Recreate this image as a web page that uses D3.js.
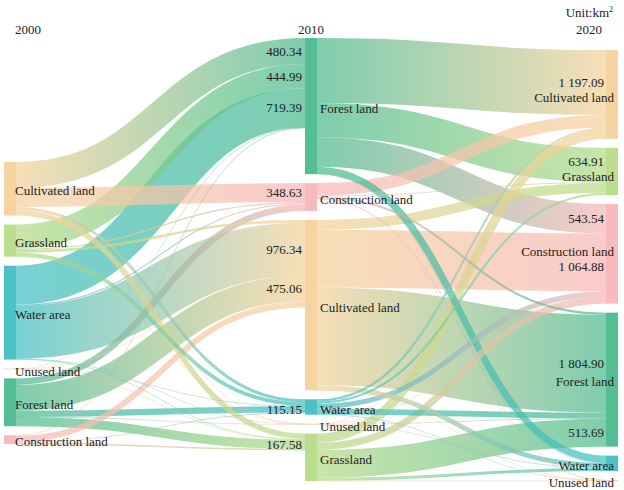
<!DOCTYPE html>
<html>
<head>
<meta charset="utf-8">
<script src="https://cdn.jsdelivr.net/npm/d3@7"></script>
<style>
  body { margin: 0; background: #fff; }
  svg text { font-family: "Liberation Serif", "Times New Roman", "DejaVu Serif", serif; font-size: 13px; fill: #222; }
</style>
</head>
<body>
<svg id="chart" width="624" height="490"></svg>
<script>
// ---- data ----
const years = ['2000', '2010', '2020'];
const landTypes = ['Cultivated land', 'Grassland', 'Water area', 'Unused land', 'Forest land', 'Construction land'];
const landColors = ['#f5d29c', '#b6db88', '#43bfc3', '#f4c8a8', '#4dba8f', '#f7b7b7'];

// node order, top to bottom, per year
const col2000 = ['Cultivated land', 'Grassland', 'Water area', 'Unused land', 'Forest land', 'Construction land'];
const col2010 = ['Forest land', 'Construction land', 'Cultivated land', 'Water area', 'Unused land', 'Grassland'];
const col2020 = ['Cultivated land', 'Grassland', 'Construction land', 'Forest land', 'Water area', 'Unused land'];

// [from, to, km2, printed on chart]
const flows2000 = [
  ['Cultivated land', 'Forest land', 480.34, true],
  ['Cultivated land', 'Construction land', 348.63, true],
  ['Cultivated land', 'Water area', 55],
  ['Cultivated land', 'Unused land', 5],
  ['Cultivated land', 'Grassland', 100],
  ['Grassland', 'Forest land', 444.99, true],
  ['Grassland', 'Construction land', 25],
  ['Grassland', 'Cultivated land', 50],
  ['Grassland', 'Water area', 70],
  ['Grassland', 'Unused land', 3],
  ['Water area', 'Forest land', 719.39, true],
  ['Water area', 'Construction land', 20],
  ['Water area', 'Cultivated land', 976.34, true],
  ['Water area', 'Unused land', 4],
  ['Water area', 'Grassland', 12],
  ['Unused land', 'Forest land', 6],
  ['Unused land', 'Cultivated land', 4],
  ['Unused land', 'Water area', 3],
  ['Unused land', 'Grassland', 2],
  ['Forest land', 'Construction land', 120],
  ['Forest land', 'Cultivated land', 475.06, true],
  ['Forest land', 'Water area', 115.15, true],
  ['Forest land', 'Unused land', 4],
  ['Forest land', 'Grassland', 167.58, true],
  ['Construction land', 'Forest land', 12],
  ['Construction land', 'Cultivated land', 110],
  ['Construction land', 'Water area', 12],
  ['Construction land', 'Grassland', 28]
];

const flows2010 = [
  ['Forest land', 'Cultivated land', 1197.09, true],
  ['Forest land', 'Grassland', 634.91, true],
  ['Forest land', 'Construction land', 543.54, true],
  ['Forest land', 'Water area', 130],
  ['Forest land', 'Unused land', 5],
  ['Construction land', 'Cultivated land', 230],
  ['Construction land', 'Grassland', 15],
  ['Construction land', 'Forest land', 40],
  ['Construction land', 'Water area', 5],
  ['Construction land', 'Unused land', 2],
  ['Cultivated land', 'Grassland', 180],
  ['Cultivated land', 'Construction land', 1064.88, true],
  ['Cultivated land', 'Forest land', 1804.90, true],
  ['Cultivated land', 'Water area', 90],
  ['Cultivated land', 'Unused land', 4],
  ['Water area', 'Cultivated land', 40],
  ['Water area', 'Grassland', 40],
  ['Water area', 'Construction land', 95],
  ['Water area', 'Forest land', 105],
  ['Water area', 'Unused land', 3],
  ['Unused land', 'Forest land', 8],
  ['Unused land', 'Construction land', 4],
  ['Unused land', 'Water area', 4],
  ['Unused land', 'Cultivated land', 2],
  ['Grassland', 'Cultivated land', 170],
  ['Grassland', 'Construction land', 130],
  ['Grassland', 'Forest land', 513.69, true],
  ['Grassland', 'Water area', 55],
  ['Grassland', 'Unused land', 4]
];

// ---- layout ----
const yTop = 38, yBottom = 481, xLeft = 4, xRight = 618;
const nodeW = 12, pad = 9;
const colAlign = [0.77, 0, 1];   // where each column sits in its free space

const color = d3.scaleOrdinal(landTypes, landColors);
const fmt = v => d3.format(',.2f')(v).replace(/,/g, ' ');

const columns = [col2000, col2010, col2020].map((names, i) =>
  names.map(name => ({ name, col: i, ins: [], outs: [] })));
const nodeOf = (i, name) => columns[i].find(n => n.name === name);

const links = [];
[flows2000, flows2010].forEach((fl, i) => fl.forEach(([s, t, v, shown]) => {
  const l = { source: nodeOf(i, s), target: nodeOf(i + 1, t), value: v, shown: !!shown };
  l.source.outs.push(l);
  l.target.ins.push(l);
  links.push(l);
}));
columns.flat().forEach(n => {
  n.value = Math.max(d3.sum(n.ins, l => l.value), d3.sum(n.outs, l => l.value));
});

const x = d3.scalePoint().domain(years).range([xLeft, xRight - nodeW]);
const ky = d3.min(columns, c => (yBottom - yTop - (c.length - 1) * pad) / d3.sum(c, n => n.value));
const h = d3.scaleLinear().domain([0, 1]).range([0, ky]);

columns.forEach((c, i) => {
  const used = d3.sum(c, n => h(n.value)) + (c.length - 1) * pad;
  let y = yTop + (yBottom - yTop - used) * colAlign[i];
  c.forEach(n => {
    n.x0 = x(years[i]);
    n.x1 = n.x0 + nodeW;
    n.y0 = y;
    n.y1 = y + h(n.value);
    y = n.y1 + pad;
  });
});

// stack links inside each node, ordered by the other end
columns.flat().forEach(n => {
  n.outs.sort((a, b) => a.target.y0 - b.target.y0);
  n.ins.sort((a, b) => a.source.y0 - b.source.y0);
  let y = n.y0;
  n.outs.forEach(l => { l.width = h(l.value); l.y0 = y + l.width / 2; y += l.width; });
  y = n.y0;
  n.ins.forEach(l => { l.y1 = y + h(l.value) / 2; y += h(l.value); });
});

// ---- draw ----
const svg = d3.select('#chart');
const defs = svg.append('defs');

links.forEach((l, i) => {
  l.gid = 'g' + i;
  const g = defs.append('linearGradient')
    .attr('id', l.gid)
    .attr('gradientUnits', 'userSpaceOnUse')
    .attr('x1', l.source.x1).attr('x2', l.target.x0);
  g.append('stop').attr('offset', '0%').attr('stop-color', color(l.source.name));
  g.append('stop').attr('offset', '100%').attr('stop-color', color(l.target.name));
});

const linkPath = d3.linkHorizontal()
  .source(l => [l.source.x1, l.y0])
  .target(l => [l.target.x0, l.y1]);

svg.append('g')
  .attr('fill', 'none')
  .attr('stroke-opacity', 0.72)
  .selectAll('path')
  .data(links.slice().sort((a, b) => b.value - a.value))
  .join('path')
    .attr('d', linkPath)
    .attr('stroke', l => `url(#${l.gid})`)
    .attr('stroke-width', l => Math.max(0.6, l.width));

svg.append('g')
  .selectAll('rect')
  .data(columns.flat())
  .join('rect')
    .attr('x', n => n.x0)
    .attr('y', n => n.y0)
    .attr('width', nodeW)
    .attr('height', n => Math.max(0.8, n.y1 - n.y0))
    .attr('fill', n => color(n.name))
    .attr('opacity', 0.95);

// label positions (value labels at target end, node names beside nodes)
const valueLabels = links.filter(l => l.shown).map(l => ({
  text: fmt(l.value), x: l.target.x0 - (l.target.col === 1 ? 3 : 2), y: l.y1, anchor: 'end', node: l.target
}));
const nameLabels = columns.flat().map(n => ({
  text: n.name,
  x: n.col === 0 ? n.x1 - 1 : n.col === 1 ? n.x1 + 3 : n.x1 - 4,
  y: (n.y0 + n.y1) / 2 + 2,
  anchor: n.col === 2 ? 'end' : 'start',
  node: n
}));

// right column: names and values share the same spot, nudge them apart
nameLabels.filter(d => d.node.col === 2).forEach(nl => {
  valueLabels.filter(v => v.node === nl.node).forEach(v => {
    const gap = 15;
    if (Math.abs(v.y - nl.y) < gap) {
      const mid = (v.y + nl.y) / 2;
      if (v.y <= nl.y) { v.y = mid - gap / 2; nl.y = mid + gap / 2; }
      else { nl.y = mid - gap / 2; v.y = mid + gap / 2; }
    }
  });
});

svg.append('g')
  .selectAll('text')
  .data(valueLabels.concat(nameLabels))
  .join('text')
    .attr('x', d => d.x)
    .attr('y', d => d.y)
    .attr('dy', '0.35em')
    .attr('text-anchor', d => d.anchor)
    .text(d => d.text);

// year headers
const c0 = columns[0][0], c1 = columns[1][0], c2 = columns[2][0];
svg.append('text').attr('x', c0.x1 - 1).attr('y', yTop - 9).attr('dy', '0.35em').text(years[0]);
svg.append('text').attr('x', (c1.x0 + c1.x1) / 2).attr('y', yTop - 9).attr('dy', '0.35em')
  .attr('text-anchor', 'middle').text(years[1]);
svg.append('text').attr('x', c2.x0 - 4).attr('y', yTop - 9).attr('dy', '0.35em')
  .attr('text-anchor', 'end').text(years[2]);

const unit = svg.append('text').attr('x', c2.x1 - 5).attr('y', 12).attr('dy', '0.35em')
  .attr('text-anchor', 'end');
unit.append('tspan').text('Unit:km');
unit.append('tspan').attr('dy', -5).attr('font-size', 8).text('2');
</script>
</body>
</html>
